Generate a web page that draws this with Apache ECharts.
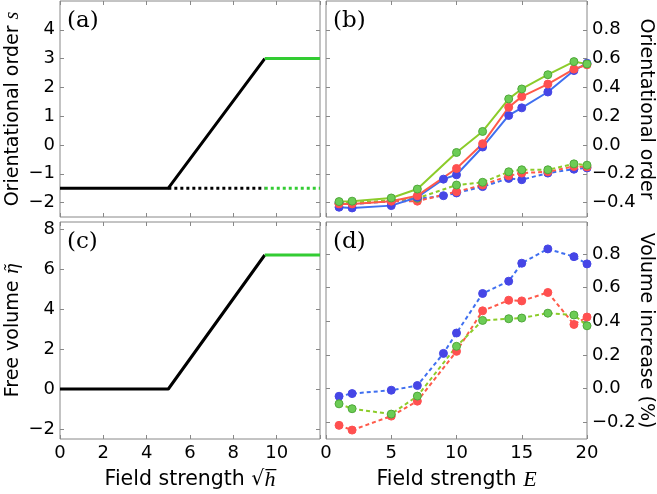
<!DOCTYPE html>
<html lang="en" style="height: 100%">
<head>
  <meta charset="utf-8">
  <script src="https://cdn.jsdelivr.net/npm/echarts@6/dist/echarts.min.js"></script>
</head>
<body style="height: 100%; margin: 0; background: #fff">
  <div id="container" style="width: 657px; height: 494px"></div>
  <script type="text/javascript">
    // panels (a) and (c): model curves vs sqrt(h)
    var aSolidBlack = [[0, -1.5], [5, -1.5], [9.45, 3]];
    var aSolidGreen = [[9.45, 3], [12, 3]];
    var aDotBlack = [[5, -1.5], [9.45, -1.5]];
    var aDotGreen = [[9.45, -1.5], [12, -1.5]];
    var cSolidBlack = [[0, 0], [5, 0], [9.45, 6.7]];
    var cSolidGreen = [[9.45, 6.7], [12, 6.7]];

    // panels (b) and (d): simulation, field strength E
    var fieldE = [1, 2, 5, 7, 9, 10, 12, 14, 15, 17, 19, 20];
    var fieldE11 = [1, 2, 5, 7, 10, 12, 14, 15, 17, 19, 20];

    var bSolidBlue = [-0.432, -0.437, -0.421, -0.363, -0.237, -0.207, -0.014, 0.205, 0.258, 0.368, 0.517, 0.568];
    var bSolidRed = [-0.409, -0.409, -0.390, -0.352, -0.163, 0.009, 0.262, 0.336, 0.423, 0.527, 0.557];
    var bSolidGreen = [-0.393, -0.390, -0.368, -0.306, -0.052, 0.094, 0.320, 0.389, 0.488, 0.579, 0.563];
    var bDashBlue = [-0.400, -0.410, -0.390, -0.375, -0.352, -0.333, -0.289, -0.232, -0.241, -0.195, -0.168, -0.159];
    var bDashRed = [-0.410, -0.405, -0.390, -0.390, -0.324, -0.278, -0.214, -0.195, -0.186, -0.149, -0.152];
    var bDashGreen = [-0.405, -0.400, -0.385, -0.370, -0.278, -0.259, -0.186, -0.172, -0.172, -0.131, -0.140];

    var dBlue = [-0.046, -0.030, -0.010, 0.018, 0.209, 0.330, 0.565, 0.638, 0.745, 0.830, 0.784, 0.741];
    var dRed = [-0.219, -0.247, -0.164, -0.075, 0.221, 0.462, 0.525, 0.521, 0.571, 0.381, 0.425];
    var dGreen = [-0.091, -0.120, -0.152, -0.045, 0.251, 0.405, 0.415, 0.419, 0.448, 0.437, 0.373];

    var leftXTicks = [0, 2, 4, 6, 8, 10, 12];
    var leftXLabels = [0, 2, 4, 6, 8, 10];
    var rightXTicks = [0, 5, 10, 15, 20];
    var aYTicks = [-2, -1, 0, 1, 2, 3, 4];
    var bYTicks = [-0.4, -0.2, 0, 0.2, 0.4, 0.6, 0.8];
    var cYTicks = [-2, 0, 2, 4, 6, 8];
    var dYTicks = [-0.2, 0, 0.2, 0.4, 0.6, 0.8];

    var BLUE_LINE = '#3f6ff0', BLUE_DOT = '#4646e6';
    var RED_LINE = '#ff5a4a', RED_DOT = '#ff5050';
    var GREEN_LINE = '#8ccc2a', GREEN_DOT = '#6ccc55', GREEN_EDGE = '#4fa83a';
    var FRAME = '#888';
    var TICK_FONT = 'DejaVu Sans';

    function pts(xs, ys) {
      return ys.map(function (y, i) { return [xs[i], y]; });
    }

    function fmt(dec) {
      return function (v) {
        var s = Math.abs(v).toFixed(dec);
        return (v < -1e-9 ? '\u2212' : '') + s;
      };
    }

    var grids = [
      { left: 60, top: 1, width: 260, height: 216 },
      { left: 326, top: 1, width: 261, height: 216 },
      { left: 60, top: 222, width: 260, height: 217 },
      { left: 326, top: 222, width: 261, height: 217 }
    ].map(function (g) {
      return Object.assign({ show: true, borderColor: FRAME, borderWidth: 1, outerBoundsMode: 'none', containLabel: false }, g);
    });

    var yRich = {
      n: { fontFamily: TICK_FONT, fontSize: 19, color: '#000' },
      m: { fontFamily: 'Liberation Serif', fontStyle: 'italic', fontSize: 20, color: '#000' },
      e: { fontFamily: 'DejaVu Serif', fontStyle: 'italic', fontSize: 18, color: '#000' }
    };
    var xRich = {
      n: { fontFamily: TICK_FONT, fontSize: 20.5, color: '#000' },
      m: { fontFamily: 'Liberation Serif', fontStyle: 'italic', fontSize: 22, color: '#000' },
      r: { fontFamily: 'DejaVu Serif', fontSize: 20.5, color: '#000' }
    };

    function axisBase(gi, min, max, ticks) {
      return {
        type: 'value', gridIndex: gi, min: min, max: max,
        axisLine: { show: false, onZero: false },
        splitLine: { show: false },
        axisTick: { show: true, inside: true, length: 4, lineStyle: { color: FRAME }, customValues: ticks },
        nameMoveOverlap: false
      };
    }

    function xPair(gi, min, max, ticks, labels, dec, name) {
      var bottom = Object.assign(axisBase(gi, min, max, ticks), {
        position: 'bottom',
        axisLabel: labels ? { show: true, customValues: labels, formatter: fmt(dec), margin: 5, fontFamily: TICK_FONT, fontSize: 18, color: '#000' } : { show: false },
        name: name || '', nameLocation: 'middle', nameGap: 30,
        nameTextStyle: { rich: xRich }
      });
      var top = Object.assign(axisBase(gi, min, max, ticks), { position: 'top', axisLabel: { show: false } });
      return [bottom, top];
    }

    function yPair(gi, min, max, ticks, labelSide, dec, name) {
      var lab = { show: true, customValues: ticks, formatter: fmt(dec), margin: 5, fontFamily: TICK_FONT, fontSize: 18, color: '#000' };
      var left = Object.assign(axisBase(gi, min, max, ticks), { position: 'left', axisLabel: labelSide === 'left' ? lab : { show: false } });
      var right = Object.assign(axisBase(gi, min, max, ticks), { position: 'right', axisLabel: labelSide === 'right' ? lab : { show: false } });
      var named = labelSide === 'left' ? left : right;
      named.name = name;
      named.nameLocation = 'middle';
      named.nameRotate = labelSide === 'left' ? 90 : -90;
      named.nameGap = labelSide === 'left' ? 37 : 49;
      named.nameTextStyle = { rich: yRich };
      return [left, right];
    }

    var xAxes = [].concat(
      xPair(0, 0, 12, leftXTicks, null, 0),
      xPair(1, 0, 20, rightXTicks, null, 0),
      xPair(2, 0, 12, leftXTicks, leftXLabels, 0, '{n|Field strength }{r|\u221A}{m|h\u0305}'),
      xPair(3, 0, 20, rightXTicks, rightXTicks, 0, '{n|Field strength }{m|E}')
    );
    var yAxes = [].concat(
      yPair(0, -2.5, 5, aYTicks, 'left', 0, '{n|Orientational order }{m|s}'),
      yPair(1, -0.5, 1.0, bYTicks, 'right', 1, '{n|Orientational order}'),
      yPair(2, -2.5, 8.35, cYTicks, 'left', 0, '{n|Free volume }{e|\u03B7\u0303}'),
      yPair(3, -0.3, 0.99, dYTicks, 'right', 1, '{n|Volume increase (%)}')
    );

    function plain(gi, data, color, dash) {
      return {
        type: 'line', xAxisIndex: gi * 2, yAxisIndex: gi * 2, data: data,
        showSymbol: false, symbol: 'none', silent: true,
        lineStyle: { color: color, width: 3, type: dash ? [3, 3] : 'solid' }
      };
    }

    function sim(gi, xs, ys, line, dot, edge, dashed) {
      return {
        type: 'line', xAxisIndex: gi * 2, yAxisIndex: gi * 2, data: pts(xs, ys),
        symbol: 'circle', symbolSize: 8, showSymbol: true, silent: true,
        lineStyle: { color: line, width: 2, type: dashed ? [4, 3] : 'solid' },
        itemStyle: { color: dot, borderColor: edge || dot, borderWidth: 1 }
      };
    }

    var series = [
      plain(0, aDotBlack, '#000', true),
      plain(0, aDotGreen, '#33cc33', true),
      plain(0, aSolidBlack, '#000', false),
      plain(0, aSolidGreen, '#33cc33', false),
      plain(2, cSolidBlack, '#000', false),
      plain(2, cSolidGreen, '#33cc33', false),

      sim(1, fieldE, bDashBlue, BLUE_LINE, BLUE_DOT, null, true),
      sim(1, fieldE11, bDashRed, RED_LINE, RED_DOT, null, true),
      sim(1, fieldE11, bDashGreen, GREEN_LINE, GREEN_DOT, GREEN_EDGE, true),
      sim(1, fieldE, bSolidBlue, BLUE_LINE, BLUE_DOT, null, false),
      sim(1, fieldE11, bSolidRed, RED_LINE, RED_DOT, null, false),
      sim(1, fieldE11, bSolidGreen, GREEN_LINE, GREEN_DOT, GREEN_EDGE, false),

      sim(3, fieldE, dBlue, BLUE_LINE, BLUE_DOT, null, true),
      sim(3, fieldE11, dRed, RED_LINE, RED_DOT, null, true),
      sim(3, fieldE11, dGreen, GREEN_LINE, GREEN_DOT, GREEN_EDGE, true)
    ];

    var panelLabels = [['(a)', 67, 10], ['(b)', 333, 10], ['(c)', 67, 231], ['(d)', 333, 231]];

    var myChart = echarts.init(document.getElementById('container'), null, { renderer: 'canvas' });
    myChart.setOption({
      animation: false,
      backgroundColor: '#fff',
      grid: grids,
      xAxis: xAxes,
      yAxis: yAxes,
      series: series,
      graphic: panelLabels.map(function (p) {
        return {
          type: 'text', left: p[1], top: p[2], z: 10,
          style: { text: p[0], font: '23px "DejaVu Serif"', fill: '#000' }
        };
      })
    });
  </script>
</body>
</html>
